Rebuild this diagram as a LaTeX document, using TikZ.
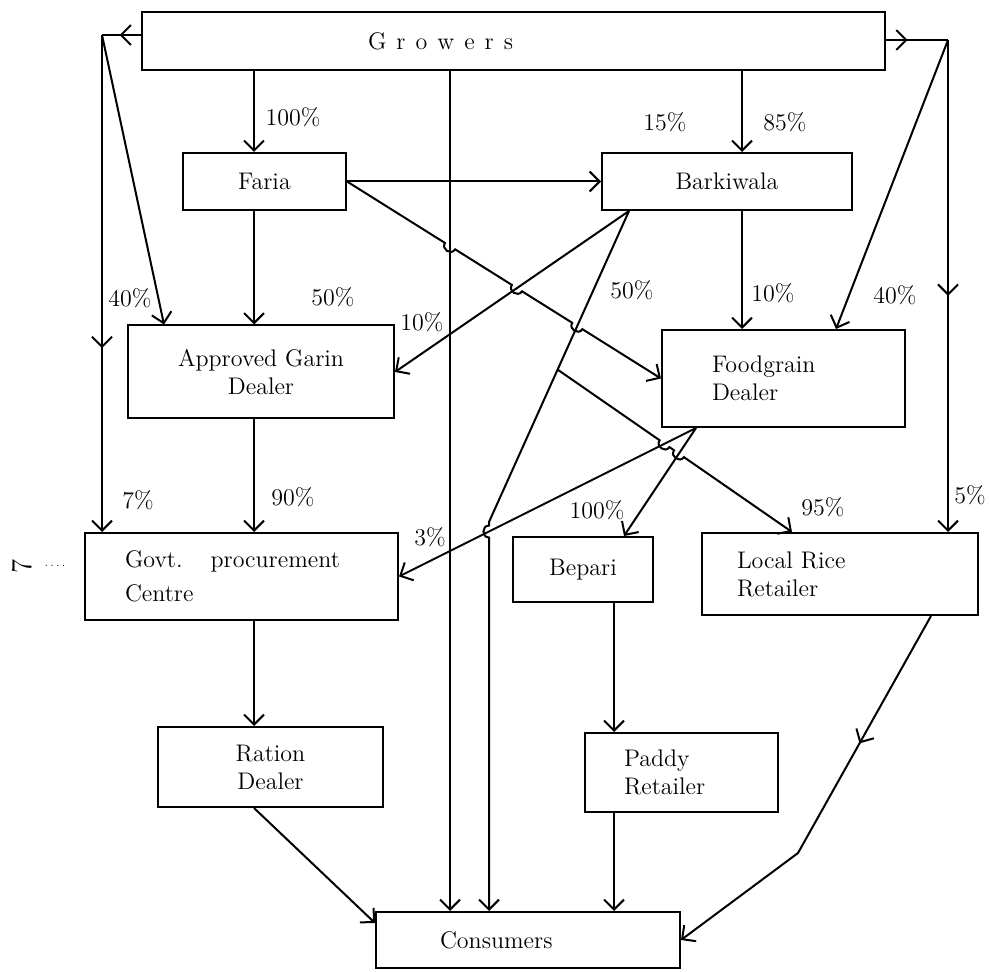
\documentclass[tikz,border=0pt]{standalone}
\usetikzlibrary{arrows.meta,calc,decorations.markings}
\begin{document}
\begin{tikzpicture}[x=0.5pt,y=0.5pt,yscale=-1,xscale=1,
    font=\large,
    chbox/.style={draw, line width=1pt, inner sep=2pt, align=center},
    link/.style={line width=1pt},
    flow/.style={line width=1pt, -{Straight Barb[length=5pt,width=10pt]}},
    midtip/.style={postaction={decorate}, decoration={markings, mark=at position #1 with {\arrow{Straight Barb[length=5pt,width=10pt]}}}},
    hop/.style={bend left=90, looseness=1.6},
    pct/.style={inner sep=0.75pt}]
        \useasboundingbox (0,0) rectangle (990,972);
        %Shape: Rectangle
        \node[chbox, align=left, text width=145.5pt, inner xsep=113pt, minimum height=29pt] (grow) at (513.5,41) {G\kern5pt r\kern5pt o\kern5pt w\kern5pt e\kern5pt r\kern5pt s};
        %Shape: Rectangle
        \node[chbox, minimum width=81.5pt, minimum height=28.5pt] (faria) at (264.5,181.5) {Faria};
        %Shape: Rectangle
        \node[chbox, minimum width=125pt, minimum height=28.5pt] (barki) at (727,181.5) {Barkiwala};
        %Shape: Rectangle
        \node[chbox, minimum width=133pt, minimum height=46.5pt] (appr) at (261,372) {Approved Garin\\Dealer};
        %Shape: Rectangle
        \node[chbox, align=left, text width=71.5pt, inner xsep=25pt, minimum height=48.5pt] (food) at (783.5,378.5) {Foodgrain\\Dealer};
        %Shape: Rectangle
        \node[chbox, align=left, text width=116.5pt, inner xsep=20pt, minimum height=43.5pt] (govt) at (241.5,576.5) {Govt.\hspace{14pt}procurement\\[3pt]Centre};
        %Shape: Rectangle
        \node[chbox, minimum width=70pt, minimum height=32.5pt] (bepari) at (583,569.5) {Bepari};
        %Shape: Rectangle
        \node[chbox, align=left, text width=103pt, inner xsep=17.5pt, minimum height=41pt] (local) at (840,574) {Local Rice\\Retailer};
        %Shape: Rectangle
        \node[chbox, minimum width=112.5pt, minimum height=40pt] (ration) at (270.5,767) {Ration\\Dealer};
        %Shape: Rectangle
        \node[chbox, align=left, text width=57.5pt, inner xsep=19.5pt, minimum height=39.5pt] (paddy) at (681.5,772.5) {Paddy\\Retailer};
        %Shape: Rectangle
        \node[chbox, align=left, text width=88pt, inner xsep=32pt, minimum height=28pt] (cons) at (528,940) {Consumers};

        % Points
        \coordinate (colA) at (254,0);
        \coordinate (colB) at (450,0);
        \coordinate (colC) at (742,0);
        \coordinate (colD) at (614,0);
        \coordinate (gl) at (102,35);
        \coordinate (gr) at (948,40);
        \coordinate (bk) at ($(barki.south west)+(28,0)$);
        \coordinate (bkc) at (489,522);
        \coordinate (bkb) at (bkc |- cons.north);
        \coordinate (br) at ($(bk)!0.51!(bkc)$);
        \coordinate (fd) at ($(food.south west)+(35,0)$);
        \coordinate (bp) at ($(bepari.north east)+(-30,0)$);
        \coordinate (lr) at ($(local.north west)+(91,0)$);
        \coordinate (lb) at (798,853);
        \coordinate (gcTop) at (grow.south -| colB);
        \coordinate (gcBot) at (cons.north -| colB);
        % Crossings
        \coordinate (h1) at (intersection of faria.east--food.west and gcTop--gcBot);
        \coordinate (h2) at (intersection of faria.east--food.west and bk--appr.east);
        \coordinate (h3) at (intersection of faria.east--food.west and bk--bkc);
        \coordinate (h4) at (intersection of br--lr and fd--govt.east);
        \coordinate (h5) at (intersection of br--lr and fd--bp);
        \coordinate (h6) at (intersection of bkc--bkb and fd--govt.east);

        %Straight Lines
        \draw[link, midtip=0.55] (grow.west |- gl) -- (gl);
        \draw[flow, midtip=0.63] (gl) -- (gl |- govt.north);
        \draw[flow] (gl) -- ($(appr.north west)+(37,0)$);
        %Straight Lines
        \draw[link, midtip=0.35] (grow.east |- gr) -- (gr);
        \draw[flow, midtip=0.52] (gr) -- (gr |- local.north);
        \draw[flow] (gr) -- ($(food.north west)+(175,0)$);
        %Straight Lines
        \draw[flow] (grow.south -| colA) -- (faria.north -| colA);
        \draw[flow] (gcTop) -- (gcBot);
        \draw[flow] (grow.south -| colC) -- (barki.north -| colC);
        %Straight Lines
        \draw[flow] (faria.east) -- (barki.west);
        \draw[flow] (faria.east) -- ($(h1)!3pt!(faria.east)$) to[hop] ($(h1)!3pt!(food.west)$) -- ($(h2)!3pt!(faria.east)$) to[hop] ($(h2)!3pt!(food.west)$) -- ($(h3)!3pt!(faria.east)$) to[hop] ($(h3)!3pt!(food.west)$) -- (food.west);
        \draw[flow] (faria.south -| colA) -- (appr.north -| colA);
        %Straight Lines
        \draw[flow] (bk) -- (appr.east);
        \draw[flow] (bk) -- (bkc) -- ($(h6)!3pt!(bkc)$) to[hop] ($(h6)!3pt!(bkb)$) -- (bkb);
        \draw[flow] (br) -- ($(h4)!3pt!(br)$) to[hop] ($(h4)!3pt!(lr)$) -- ($(h5)!3pt!(br)$) to[hop] ($(h5)!3pt!(lr)$) -- (lr);
        \draw[flow] (barki.south -| colC) -- (food.north -| colC);
        %Straight Lines
        \draw[flow] (fd) -- (govt.east);
        \draw[flow] (fd) -- (bp);
        \draw[flow] (appr.south -| colA) -- (govt.north -| colA);
        \draw[flow] (govt.south -| colA) -- (ration.north -| colA);
        \draw[flow] (bepari.south -| colD) -- (paddy.north -| colD);
        %Straight Lines
        \draw[flow] (ration.south -| colA) -- ($(cons.north west)+(0,12)$);
        \draw[flow] (paddy.south -| colD) -- (cons.north -| colD);
        \draw[flow, midtip=0.35] ($(local.south east)+(-48,0)$) -- (lb) -- (cons.east);

        % Text Node
        \node[pct] (p100a) at (293,117) {100\%};
        \node[pct] (p15) at (665,122) {15\%};
        \node[pct] (p85) at (785,122) {85\%};
        \node[pct] (p40a) at (130,298) {40\%};
        \node[pct] (p50a) at (333,297) {50\%};
        \node[pct] (p10a) at (422,322) {10\%};
        \node[pct] (p50b) at (632,290) {50\%};
        \node[pct] (p10b) at (773,293) {10\%};
        \node[pct] (p40b) at (895,295) {40\%};
        \node[pct] (p7) at (138,500) {7\%};
        \node[pct] (p90) at (293,497) {90\%};
        \node[pct] (p3) at (430,537) {3\%};
        \node[pct] (p100b) at (597,510) {100\%};
        \node[pct] (p95) at (823,507) {95\%};
        \node[pct] (p5) at (970,495) {5\%};
        % Text Node
        \node[rotate=90, font=\Large] (pgmark) at (22,566) {7};
        \node[font=\tiny] (pgdots) at (55,566) {.\,.\,.\,.};
\end{tikzpicture}
\end{document}
